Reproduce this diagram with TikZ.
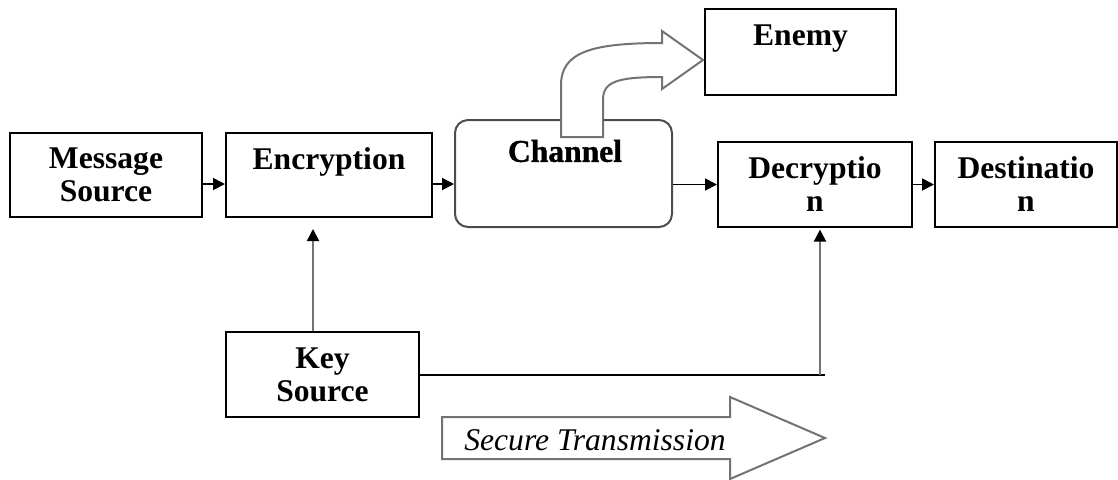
\documentclass[tikz,border=0pt]{standalone}
\usepackage{fontspec}
\setmainfont{Liberation Serif}
\newfontfamily\chfont[FakeBold=1.2]{Liberation Serif Bold}
\usetikzlibrary{arrows.meta}
\definecolor{edgegray}{gray}{0.45}
\tikzset{
  blk/.style={draw=black, line width=1pt, fill=white, align=center,
    font=\fontsize{15.8}{16.5}\selectfont\bfseries, inner sep=0pt},
  flow/.style={draw=black, line width=0.9pt, -{Triangle[length=6pt,width=6pt]}},
  keyflow/.style={draw=edgegray, line width=1pt, -{Triangle[length=6pt,width=6pt,black]}},
  bigarrow/.style={draw=edgegray, line width=1pt, fill=white, line join=miter},
}
\begin{document}
\begin{tikzpicture}[x=0.5pt,y=-0.5pt]
\useasboundingbox (0,0) rectangle (1118,479);

% processing blocks
\node[blk, minimum width=96pt, minimum height=42pt] (msg) at (106,175) {Message\\Source};
\node[blk, minimum width=103pt, minimum height=42pt] (enc) at (329,175) {Encryption\\\mbox{}};
\node[draw=black!70, line width=1pt, rounded corners=6.5pt, minimum width=108.5pt,
      minimum height=53.5pt, inner sep=0pt] (ch) at (563.5,173.5) {};
\node[blk, minimum width=97pt, minimum height=42.5pt] (dec) at (815,184.5) {Decryptio\\n};
\node[blk, minimum width=91pt, minimum height=42.5pt] (dest) at (1026,184.5) {Destinatio\\n};
\node[blk, minimum width=95.5pt, minimum height=43pt] (enemy) at (800.5,52) {Enemy\\\mbox{}};
\node[blk, minimum width=96.5pt, minimum height=42.5pt] (key) at (322.5,374.5) {Key\\Source};

% interception arrow leaving the channel towards the enemy
\draw[bigarrow] (561,137) -- (561,85) .. controls (561,52) and (592,43) .. (662,43)
  -- (662,31) -- (703,60) -- (662,89) -- (662,77)
  .. controls (616,77) and (603,82) .. (603,100) -- (603,137) -- cycle;
\node[font=\fontsize{15.8}{16.5}\chfont, inner sep=0pt] (chlabel) at (565,151) {Channel};

% main data path
\draw[flow] ([yshift=-4.5pt]msg.east) -- ([yshift=-4.5pt]msg.east -| enc.west);
\draw[flow] ([yshift=-4.5pt]enc.east) -- ([yshift=-4.5pt]enc.east -| ch.west);
\draw[flow] (ch.east |- dec.west) -- (dec.west);
\draw[flow] (dec.east) -- (dest.west);

% key distribution
\coordinate (kturn) at ([xshift=2.5pt]dec.south |- key.east);
\draw[keyflow] ([xshift=-4.75pt]key.north) -- ([xshift=-4.75pt,yshift=-5.5pt]key.north |- enc.south);
\draw[black, line width=1pt] (key.east) -- (kturn) -- ++(2.5pt,0);
\draw[keyflow] (kturn) -- ([xshift=2.5pt,yshift=-0.8pt]dec.south);

% secure transmission block arrow
\draw[bigarrow] (442,417) -- (730,417) -- (730,397) -- (825,438) -- (730,479)
  -- (730,459) -- (442,459) -- cycle;
\node[font=\fontsize{15.8}{16.5}\selectfont\itshape, inner sep=0pt] (sectx) at (595,440) {Secure Transmission};
\end{tikzpicture}
\end{document}
